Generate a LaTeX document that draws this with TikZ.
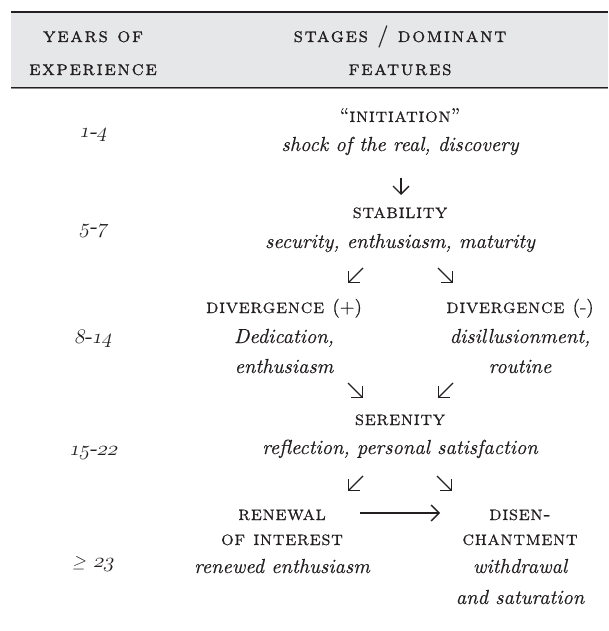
\documentclass[tikz,border=0pt]{standalone}
\usepackage{fontspec}
\usetikzlibrary{arrows.meta}
\setmainfont{lmroman10-regular.otf}[ItalicFont=lmroman10-italic.otf,BoldFont=lmroman10-bold.otf,SmallCapsFont=lmromancaps10-regular.otf]
\newfontfamily\scfont{lmromancaps10-regular.otf}[LetterSpace=3,FakeBold=0.4]
\newfontfamily\hdfont{lmromancaps10-regular.otf}[LetterSpace=8,FakeBold=0.9]
\newfontfamily\itfont{lmroman10-italic.otf}[FakeBold=0.3]
\newfontfamily\rmfont{lmroman10-regular.otf}[FakeBold=0.3]
\definecolor{ink}{HTML}{231F20}
\definecolor{band}{HTML}{E6E7E8}
\definecolor{rulegrey}{HTML}{8A8A8C}
\newcommand{\osn}[1]{$\mathnormal{#1}$}
\begin{document}
\begin{tikzpicture}[x=1pt,y=-1pt,
  every node/.style={inner sep=0pt,text=ink},
  hd/.style={font={\hdfont\fontsize{20.5}{24}\selectfont},anchor=base},
  sc/.style={font={\scfont\fontsize{20}{24}\selectfont},anchor=base},
  it/.style={font={\itfont\fontsize{20.3}{24}\selectfont},anchor=base},
  num/.style={font={\rmfont\fontsize{22}{26}\selectfont},anchor=base,transform shape},
  numrow/.style={xslant=0.22},
  arr/.style={draw=ink,line width=1.3pt,-{Straight Barb[length=8pt,width=16pt]}}]
\useasboundingbox (0,0) rectangle (608,631);
% header band
\fill[band] (11,12) rectangle (608,88);
\draw[ink,line width=1.8pt] (11,12) -- (608,12);
\draw[ink,line width=1.6pt] (11,87.5) -- (608,87.5);
\draw[rulegrey,line width=0.8pt] (11,88.9) -- (608,88.9);
\node[hd] (h1a) at (93,42) {years of};
\node[hd] (h1b) at (93,75) {experience};
\node[hd] (h2a) at (400,42) {stages {\rmfont\fontsize{22}{24}\selectfont/} dominant};
\node[hd] (h2b) at (400,75) {features};
% years column
\begin{scope}[shift={(93,138)},numrow]\node[num] (y1) at (0,0) {\osn{1}-\osn{4}};\end{scope}
\begin{scope}[shift={(93,233)},numrow]\node[num] (y2) at (0,0) {\osn{5}-\osn{7}};\end{scope}
\begin{scope}[shift={(93,343)},numrow]\node[num] (y3) at (0,0) {\osn{8}-\osn{14}};\end{scope}
\begin{scope}[shift={(93,455)},numrow]\node[num] (y4) at (0,0) {\osn{15}-\osn{22}};\end{scope}
\begin{scope}[shift={(93,567)},numrow]\node[num] (y5) at (0,0) {{\fontsize{18}{20}\selectfont$\geq$} \osn{23}};\end{scope}
% stages
\node[sc] (init) at (400,122) {{\rmfont\fontsize{20}{24}\selectfont“}initiation{\rmfont\fontsize{20}{24}\selectfont”}};
\node[it] (initd) at (400,151) {shock of the real, discovery};
\node[sc] (stab) at (400,218) {stability};
\node[it] (stabd) at (400,248) {security, enthusiasm, maturity};
\node[sc] (divp) at (284,313) {divergence {\rmfont\fontsize{19}{22}\selectfont(+)}};
\node[it] (divpa) at (284,343) {Dedication,};
\node[it] (divpb) at (284,373) {enthusiasm};
\node[sc] (divm) at (520,313) {divergence {\rmfont\fontsize{19}{22}\selectfont(-)}};
\node[it] (divma) at (520,343) {disillusionment,};
\node[it] (divmb) at (520,373) {routine};
\node[sc] (ser) at (400,425) {serenity};
\node[it] (serd) at (400,454) {reflection, personal satisfaction};
\node[sc] (ren1) at (282,520) {renewal};
\node[sc] (ren2) at (282,545) {of interest};
\node[it] (ren3) at (282,573) {renewed enthusiasm};
\node[sc] (dis1) at (520,520) {disen-};
\node[sc] (dis2) at (520,545) {chantment};
\node[it] (dis3) at (520,573) {withdrawal};
\node[it] (dis4) at (520,604) {and saturation};
% arrow end points
\coordinate (a1s) at (401,178); \coordinate (a1e) at (401,195);
\coordinate (a2s) at (363,268); \coordinate (a2e) at (348,283);
\coordinate (a3s) at (438,268); \coordinate (a3e) at (453,283);
\coordinate (a4s) at (348,383); \coordinate (a4e) at (363,398);
\coordinate (a5s) at (453,383); \coordinate (a5e) at (438,398);
\coordinate (a6s) at (363,476); \coordinate (a6e) at (348,491);
\coordinate (a7s) at (437,476); \coordinate (a7e) at (452,491);
\coordinate (a8s) at (360,513); \coordinate (a8e) at (440,513);
\draw[arr] (a1s) -- (a1e);
\draw[arr] (a2s) -- (a2e);
\draw[arr] (a3s) -- (a3e);
\draw[arr] (a4s) -- (a4e);
\draw[arr] (a5s) -- (a5e);
\draw[arr] (a6s) -- (a6e);
\draw[arr] (a7s) -- (a7e);
\draw[arr] (a8s) -- (a8e);
\end{tikzpicture}
\end{document}
